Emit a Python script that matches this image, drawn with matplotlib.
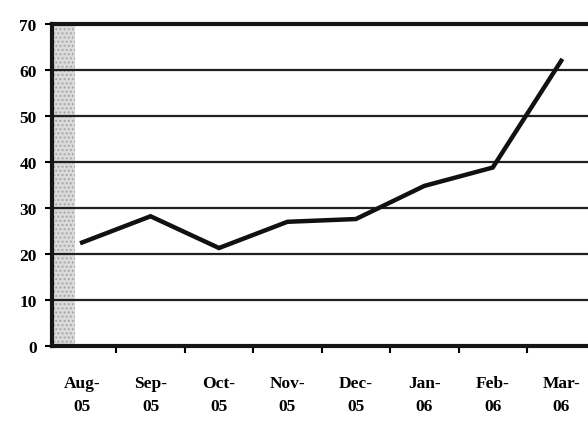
import matplotlib
matplotlib.use("Agg")
import matplotlib.pyplot as plt
import numpy as np

# monthly values
months = ["Aug-\n05", "Sep-\n05", "Oct-\n05", "Nov-\n05", "Dec-\n05", "Jan-\n06", "Feb-\n06", "Mar-\n06"]
values = [22.5, 28.2, 21.3, 27.0, 27.6, 34.8, 38.8, 62.0]
y_ticks = [0, 10, 20, 30, 40, 50, 60, 70]

plt.rcParams['font.family'] = ['Liberation Serif', 'DejaVu Serif']
plt.rcParams['font.weight'] = 'bold'

fig = plt.figure(figsize=(5.88, 4.31), dpi=100)
ax = fig.add_axes([52 / 588, 84 / 431, 540 / 588, 322 / 431])

x = np.arange(len(months))

# grey wall strip on the left side of the plot
ax.axvspan(-0.44, -0.1, color='#c4c4c4', alpha=0.6, lw=0, hatch='....', ec='#8c8c8c')

for t in y_ticks[1:-1]:
    ax.axhline(t, color='#202020', lw=1.6, zorder=1)

ax.plot(x, values, color='#111111', lw=3.2, solid_joinstyle='miter', zorder=3)

ax.set_xlim(-0.44, 7.45)
ax.set_ylim(0, 70)
ax.set_yticks(y_ticks)
ax.set_xticks(x)
ax.set_xticklabels(months, fontsize=12.5, fontweight='bold', linespacing=1.6)
ax.set_xticks(x[:-1] + 0.5, minor=True)
ax.tick_params(axis='x', which='major', length=0, pad=21)
ax.tick_params(axis='x', which='minor', length=5, width=1.5, direction='out')
ax.tick_params(axis='y', length=5, width=1.5, labelsize=12.5, pad=6)
for lbl in ax.get_yticklabels():
    lbl.set_fontweight('bold')

for side in ['left', 'bottom', 'top']:
    ax.spines[side].set_linewidth(3)
    ax.spines[side].set_color('#151515')
ax.spines['right'].set_visible(False)

fig.savefig("out.png", dpi=100)
